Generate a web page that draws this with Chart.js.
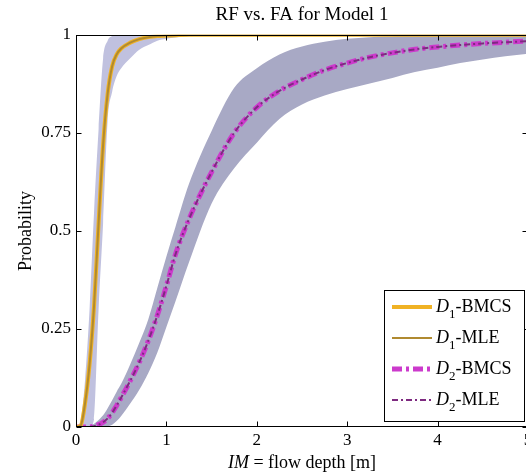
<!DOCTYPE html>
<html>
<head>
<meta charset="utf-8">
<script src="https://cdn.jsdelivr.net/npm/chart.js@4.4.1/dist/chart.umd.min.js"></script>
<style>
  html, body { margin: 0; padding: 0; background: #fff; overflow: hidden; }
  #wrap { width: 540px; height: 472px; }
</style>
</head>
<body>
<div id="wrap"><canvas id="rfChart" width="540" height="472"></canvas></div>
<script>
// --- values ---
const flowDepth = [0, 0.05, 0.1, 0.15, 0.2, 0.25, 0.3, 0.35, 0.4, 0.45, 0.5, 0.6, 0.7, 0.8, 0.9, 1.0, 1.1, 1.25, 1.5, 1.75, 2, 2.25, 2.5, 2.75, 3, 3.25, 3.5, 3.75, 4, 4.25, 4.5, 4.75, 5];

// D1 fragility curves + band
const d1Bmcs  = [0, 0.003, 0.06, 0.16, 0.31, 0.52, 0.72, 0.85, 0.92, 0.95, 0.965, 0.98, 0.989, 0.994, 0.997, 0.998, 0.999, 1, 1, 1, 1, 1, 1, 1, 1, 1, 1, 1, 1, 1, 1, 1, 1];
const d1Mle   = [0, 0.003, 0.06, 0.16, 0.31, 0.52, 0.72, 0.85, 0.92, 0.95, 0.965, 0.98, 0.989, 0.994, 0.997, 0.998, 0.999, 1, 1, 1, 1, 1, 1, 1, 1, 1, 1, 1, 1, 1, 1, 1, 1];
const d1Upper = [0, 0.015, 0.12, 0.3, 0.55, 0.76, 0.94, 0.985, 0.997, 1, 1, 1, 1, 1, 1, 1, 1, 1, 1, 1, 1, 1, 1, 1, 1, 1, 1, 1, 1, 1, 1, 1, 1];
const d1Lower = [0, 0, 0, 0, 0.02, 0.3, 0.52, 0.78, 0.855, 0.895, 0.915, 0.94, 0.962, 0.974, 0.985, 0.99, 0.993, 0.996, 0.999, 1, 1, 1, 1, 1, 1, 1, 1, 1, 1, 1, 1, 1, 1];

// D2 fragility curves + band
const d2Bmcs  = [0, 0, 0, 0, 0.002, 0.006, 0.012, 0.022, 0.036, 0.055, 0.075, 0.118, 0.165, 0.22, 0.285, 0.36, 0.44, 0.53, 0.65, 0.75, 0.815, 0.857, 0.886, 0.91, 0.928, 0.943, 0.954, 0.963, 0.969, 0.974, 0.978, 0.981, 0.984];
const d2Mle   = [0, 0, 0, 0, 0.002, 0.006, 0.012, 0.022, 0.036, 0.055, 0.075, 0.118, 0.165, 0.22, 0.285, 0.36, 0.44, 0.53, 0.65, 0.75, 0.815, 0.857, 0.886, 0.91, 0.928, 0.943, 0.954, 0.963, 0.969, 0.974, 0.978, 0.981, 0.984];
const d2Upper = [0, 0, 0, 0.002, 0.008, 0.018, 0.03, 0.048, 0.068, 0.09, 0.11, 0.16, 0.215, 0.275, 0.355, 0.435, 0.51, 0.62, 0.755, 0.865, 0.915, 0.95, 0.97, 0.982, 0.99, 0.994, 0.996, 0.998, 0.999, 1, 1, 1, 1];
const d2Lower = [0, 0, 0, 0, 0, 0, 0, 0.002, 0.006, 0.015, 0.028, 0.06, 0.095, 0.138, 0.19, 0.255, 0.32, 0.42, 0.57, 0.66, 0.725, 0.785, 0.822, 0.845, 0.862, 0.876, 0.89, 0.905, 0.916, 0.928, 0.937, 0.945, 0.952];

const xTicks = [0, 1, 2, 3, 4, 5];
const yTicks = [0, 0.25, 0.5, 0.75, 1];

const chartTitle = 'RF vs. FA for Model 1';
const yTitle = 'Probability';
// [italic part, subscript, rest]
const legendLabels = [['D', '1', '-BMCS'], ['D', '1', '-MLE'], ['D', '2', '-BMCS'], ['D', '2', '-MLE']];

const SERIF = '"Liberation Serif", "Times New Roman", serif';
const COL_D1_BMCS = '#f0b224';
const COL_D1_MLE = '#b08a30';
const COL_D2_BMCS = '#cc3acc';
const COL_D2_MLE = '#7e2a80';
const COL_D1_BAND = '#c0c1df';
const COL_D2_BAND = '#a8a9c5';

const toPts = arr => flowDepth.map((x, i) => ({ x: x, y: arr[i] }));

const lineBase = { pointRadius: 0, cubicInterpolationMode: 'monotone', fill: false };
const bandBase = { pointRadius: 0, cubicInterpolationMode: 'monotone', borderWidth: 0, borderColor: 'rgba(0,0,0,0)' };

// legend sample styles (same as the datasets)
const legendStyles = [
    { color: COL_D1_BMCS, width: 4, dash: [] },
    { color: COL_D1_MLE, width: 2, dash: [] },
    { color: COL_D2_BMCS, width: 5, dash: [10, 4, 3, 4] },
    { color: COL_D2_MLE, width: 2, dash: [6, 3, 2, 3] }
];

// --- Frame, inward ticks, x label and legend ---
const framePlugin = {
    id: 'frameAndLegend',
    afterDatasetsDraw(chart) {
        const ctx = chart.ctx;
        const a = chart.chartArea;
        const xs = chart.scales.x, ys = chart.scales.y;
        ctx.save();
        ctx.strokeStyle = '#000';
        ctx.lineWidth = 1;
        const L = Math.round(a.left) + 0.5, R = Math.round(a.right) - 0.5;
        const T = Math.round(a.top) + 0.5, B = Math.round(a.bottom) - 0.5;
        ctx.strokeRect(L, T, R - L, B - T);

        // inward tick marks
        ctx.beginPath();
        xTicks.forEach(v => {
            const px = Math.round(xs.getPixelForValue(v)) + 0.5;
            ctx.moveTo(px, B); ctx.lineTo(px, B - 5);
            ctx.moveTo(px, T); ctx.lineTo(px, T + 5);
        });
        yTicks.forEach(v => {
            const py = Math.round(ys.getPixelForValue(v)) + 0.5;
            ctx.moveTo(L, py); ctx.lineTo(L + 5, py);
            ctx.moveTo(R, py); ctx.lineTo(R - 5, py);
        });
        ctx.stroke();

        // x axis label with italic IM
        ctx.fillStyle = '#000';
        ctx.textBaseline = 'middle';
        ctx.textAlign = 'left';
        const italic = 'italic 18px ' + SERIF, plain = '18px ' + SERIF;
        ctx.font = italic;
        const w1 = ctx.measureText('IM').width;
        ctx.font = plain;
        const w2 = ctx.measureText(' = flow depth [m]').width;
        let lx = (a.left + a.right) / 2 - (w1 + w2) / 2;
        ctx.font = italic;
        ctx.fillText('IM', lx, 463);
        ctx.font = plain;
        ctx.fillText(' = flow depth [m]', lx + w1, 463);

        // legend box
        const box = { x: 384.5, y: 290.5, w: 140, h: 131 };
        ctx.fillStyle = '#fff';
        ctx.fillRect(box.x, box.y, box.w, box.h);
        ctx.strokeStyle = '#000';
        ctx.strokeRect(box.x, box.y, box.w, box.h);
        ctx.textBaseline = 'alphabetic';
        legendLabels.forEach((lab, i) => {
            const rowY = 307 + i * 31;
            const st = legendStyles[i];
            ctx.beginPath();
            ctx.strokeStyle = st.color;
            ctx.lineWidth = st.width;
            ctx.setLineDash(st.dash);
            ctx.moveTo(392, rowY);
            ctx.lineTo(432, rowY);
            ctx.stroke();
            ctx.setLineDash([]);

            ctx.fillStyle = '#000';
            let tx = 436;
            ctx.font = italic;
            ctx.fillText(lab[0], tx, rowY + 5);
            tx += ctx.measureText(lab[0]).width;
            ctx.font = '13px ' + SERIF;
            ctx.fillText(lab[1], tx, rowY + 11);
            tx += ctx.measureText(lab[1]).width;
            ctx.font = plain;
            ctx.fillText(lab[2], tx, rowY + 5);
        });
        ctx.restore();
    }
};

const ctx = document.getElementById('rfChart');
new Chart(ctx, {
    type: 'line',
    data: {
        datasets: [
            { ...lineBase, label: 'D1-MLE', data: toPts(d1Mle), borderColor: COL_D1_MLE, borderWidth: 2, order: 1 },
            { ...lineBase, label: 'D1-BMCS', data: toPts(d1Bmcs), borderColor: COL_D1_BMCS, borderWidth: 4, order: 2 },
            { ...lineBase, label: 'D2-MLE', data: toPts(d2Mle), borderColor: COL_D2_MLE, borderWidth: 2, borderDash: [6, 3, 2, 3], order: 3 },
            { ...lineBase, label: 'D2-BMCS', data: toPts(d2Bmcs), borderColor: COL_D2_BMCS, borderWidth: 5, borderDash: [10, 4, 3, 4], order: 4 },
            { ...bandBase, label: 'D1 band', data: toPts(d1Upper), backgroundColor: COL_D1_BAND, fill: '+1', order: 5 },
            { ...bandBase, label: 'D1 band low', data: toPts(d1Lower), fill: false, order: 5 },
            { ...bandBase, label: 'D2 band', data: toPts(d2Upper), backgroundColor: COL_D2_BAND, fill: '+1', order: 7 },
            { ...bandBase, label: 'D2 band low', data: toPts(d2Lower), fill: false, order: 7 }
        ]
    },
    options: {
        responsive: false,
        animation: false,
        devicePixelRatio: 1,
        layout: { padding: { left: 0, right: 12, top: 0, bottom: 0 } },
        plugins: {
            legend: { display: false },
            tooltip: { enabled: false },
            title: {
                display: true,
                text: chartTitle,
                fullSize: false,
                color: '#000',
                font: { family: SERIF, size: 19, weight: 'normal' },
                padding: { top: 4, bottom: 8 }
            }
        },
        scales: {
            x: {
                type: 'linear',
                min: 0,
                max: 5,
                afterBuildTicks: s => { s.ticks = xTicks.map(v => ({ value: v })); },
                afterFit: s => { s.height = 45; },
                grid: { display: false, drawTicks: false },
                border: { display: false },
                ticks: {
                    color: '#000',
                    padding: 3,
                    autoSkip: false,
                    maxRotation: 0,
                    font: { family: SERIF, size: 17 },
                    callback: v => String(v)
                }
            },
            y: {
                min: 0,
                max: 1,
                afterBuildTicks: s => { s.ticks = yTicks.map(v => ({ value: v })); },
                afterFit: s => { s.width = 76; },
                grid: { display: false, drawTicks: false },
                border: { display: false },
                ticks: {
                    color: '#000',
                    padding: 5,
                    font: { family: SERIF, size: 17 },
                    callback: v => String(v)
                },
                title: {
                    display: true,
                    text: yTitle,
                    color: '#000',
                    font: { family: SERIF, size: 18 },
                    padding: { top: 15, bottom: 0 }
                }
            }
        }
    },
    plugins: [framePlugin]
});
</script>
</body>
</html>
